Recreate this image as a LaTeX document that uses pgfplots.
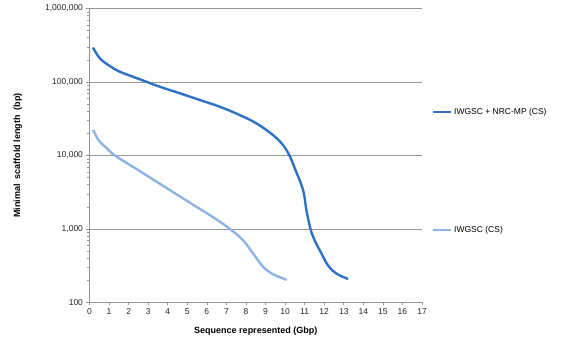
\documentclass[border=0pt]{standalone}
\usepackage{pgfplots}
\pgfplotsset{compat=1.18}
\usepackage{fontspec}
\setmainfont{Liberation Sans}
\definecolor{darkb}{RGB}{46,114,198}
\definecolor{lightb}{RGB}{141,180,226}
\definecolor{gridg}{RGB}{150,150,150}
\begin{document}
\begin{tikzpicture}[x=1pt,y=1pt]
\path (0,0) rectangle (569,353);
\begin{axis}[
  at={(89.5pt,50.5pt)}, anchor=south west,
  scale only axis, width=332.5pt, height=294pt,
  xmin=0, xmax=17, ymode=log, ymin=100, ymax=1000000,
  xtick={0,1,...,17},
  ytick={100,1000,10000,100000,1000000},
  yticklabels={100,{1,000},{10,000},{100,000},{1,000,000}},
  axis x line*=bottom, axis y line*=left,
  axis line style={gridg, line width=0.8pt, -},
  tick style={gridg, line width=0.6pt},
  tick align=outside,
  major tick length=3pt, minor tick length=2pt,
  ymajorgrids, major grid style={gridg, line width=0.9pt},
  yminorticks=true,
  tick label style={font=\fontsize{8.5}{10}\selectfont, text=black!85},
  /pgf/number format/assume math mode=true,
  xlabel={\bfseries Sequence represented (Gbp)},
  ylabel={\bfseries Minimal\ \ scaffold length\ \ (bp)},
  label style={font=\fontsize{9}{11}\selectfont},
  xlabel style={at={(axis description cs:0.5,0)}, anchor=north, yshift=-21pt},
  ylabel style={at={(axis description cs:0,0.5)}, anchor=south, yshift=64pt},
  clip=false,
]
\addplot[darkb, line width=2.4pt, smooth, tension=0.6] coordinates {
(0.18,294000) (0.53,210000) (1.04,165000) (1.55,138000) (2.57,109000)
(3.59,86300) (4.62,70200) (5.64,56900) (6.66,46100) (7.68,35500)
(8.54,27300) (9.39,18900) (9.9,13800) (10.24,9800) (10.5,6650)
(10.92,3390) (11.09,1800) (11.3,1000) (11.52,693) (11.86,465)
(12.2,318) (12.63,247) (13.22,209)
};
\addplot[lightb, line width=2.4pt, smooth, tension=0.6] coordinates {
(0.19,22300) (0.45,16300) (0.79,13200) (1.3,10000) (2.33,6730) (3.35,4540)
(4.37,3060) (5.39,2065) (6.42,1390) (7.18,1000) (7.86,700) (8.37,462)
(8.89,303) (9.4,241) (10.08,204)
};
\end{axis}
\draw[darkb, line width=2.4pt] (433,241) -- (451,241);
\node[anchor=west, font=\fontsize{8.5}{10}\selectfont, inner sep=0pt] at (454,241) {IWGSC + NRC-MP (CS)};
\draw[lightb, line width=2.4pt] (433,123) -- (451,123);
\node[anchor=west, font=\fontsize{8.5}{10}\selectfont, inner sep=0pt] at (454,123) {IWGSC (CS)};
\end{tikzpicture}
\end{document}
